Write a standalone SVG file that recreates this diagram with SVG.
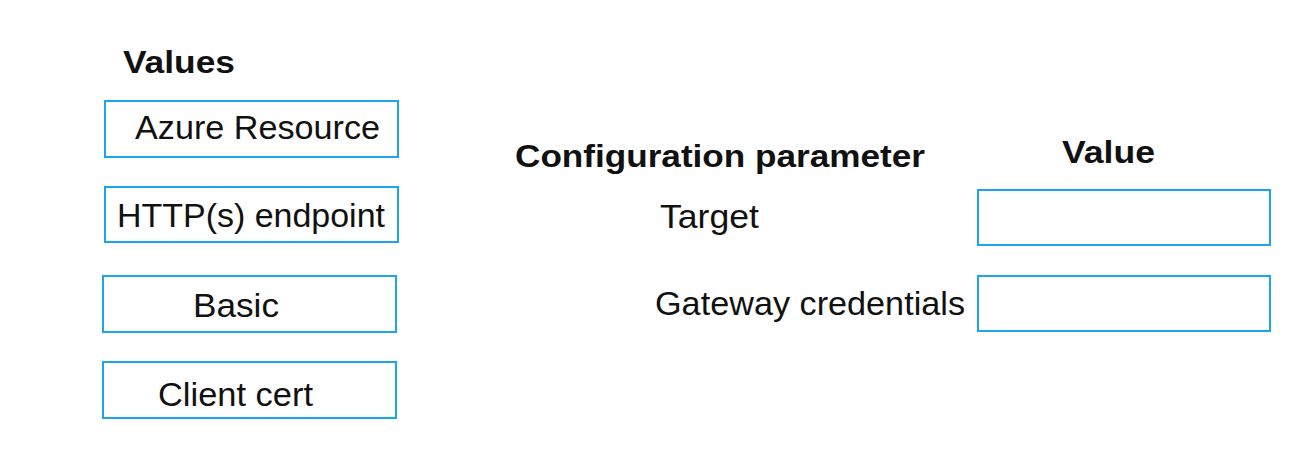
<svg xmlns="http://www.w3.org/2000/svg" width="1304" height="463" viewBox="0 0 1304 463">
<style>
.box{fill:#fff;stroke:#1aa6ec;stroke-width:2}
.t{font-family:"Liberation Sans",Arial,sans-serif;font-size:34px;fill:#111}
.h{font-family:"Liberation Sans",Arial,sans-serif;font-size:31px;font-weight:bold;fill:#111}
</style>
<rect width="1304" height="463" fill="#fff"/>
<g id="values-header"><text class="h" x="123" y="73" textLength="112" lengthAdjust="spacingAndGlyphs">Values</text></g>
<g id="azure-resource"><rect class="box" x="105" y="101" width="293" height="56"/><text class="t" x="135" y="139" textLength="245" lengthAdjust="spacingAndGlyphs">Azure Resource</text></g>
<g id="http-endpoint"><rect class="box" x="105" y="187" width="293" height="55"/><text class="t" x="117" y="227" textLength="268" lengthAdjust="spacingAndGlyphs">HTTP(s) endpoint</text></g>
<g id="basic"><rect class="box" x="103" y="276" width="293" height="56"/><text class="t" x="193" y="317" textLength="86" lengthAdjust="spacingAndGlyphs">Basic</text></g>
<g id="client-cert"><rect class="box" x="103" y="362" width="293" height="56"/><text class="t" x="158" y="406" textLength="155" lengthAdjust="spacingAndGlyphs">Client cert</text></g>
<g id="config-header"><text class="h" x="515" y="167" textLength="410" lengthAdjust="spacingAndGlyphs">Configuration parameter</text></g>
<g id="value-header"><text class="h" x="1062" y="163" textLength="93" lengthAdjust="spacingAndGlyphs">Value</text></g>
<g id="target"><text class="t" x="660" y="228" textLength="99" lengthAdjust="spacingAndGlyphs">Target</text><rect class="box" x="978" y="190" width="292" height="55"/></g>
<g id="gateway-credentials"><text class="t" x="655" y="315" textLength="310" lengthAdjust="spacingAndGlyphs">Gateway credentials</text><rect class="box" x="978" y="276" width="292" height="55"/></g>
<g id="connectors"></g>
</svg>
